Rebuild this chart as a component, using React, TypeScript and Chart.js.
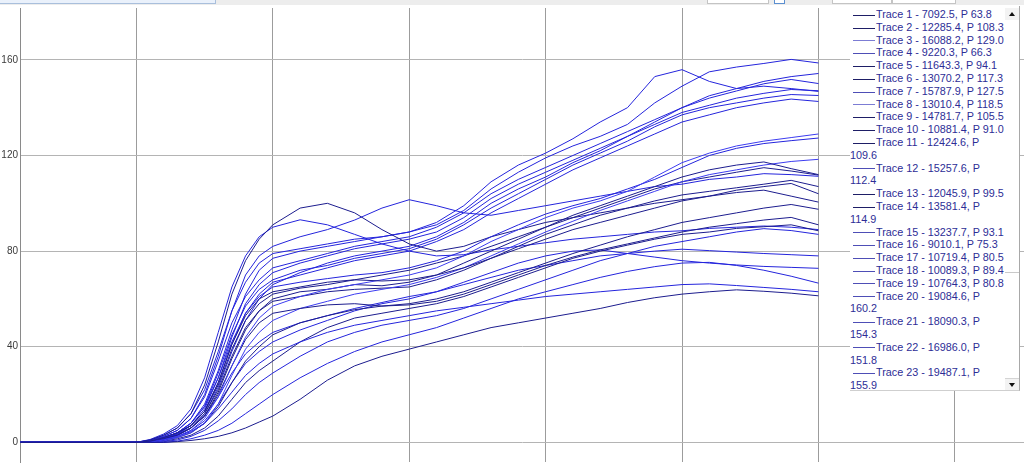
import React, { useEffect, useRef } from 'react';
import { Chart, registerables } from 'chart.js';

Chart.register(...registerables);

// x positions (axis units; one vertical grid division = 1)
const xPositions = [0.15, 1.0, 1.1, 1.2, 1.3, 1.4, 1.5, 1.6, 1.7, 1.8, 1.9, 2.0, 2.2, 2.4, 2.6, 2.8, 3.0, 3.2, 3.4, 3.6, 3.8, 4.0, 4.2, 4.4, 4.6, 4.8, 5.0, 5.2, 5.4, 5.6, 5.8, 6.0];

const trace1 = [0, 0, 0, 0, 0.3, 0.8, 1.5, 2.5, 4, 6, 8.5, 11, 18, 26, 32, 36, 39, 42, 45, 48, 50, 52, 54, 56, 58.5, 60.5, 62, 63, 63.8, 63.2, 62.4, 61.3];
const trace2 = [0, 0, 0.5, 2, 4, 7, 13, 25, 41, 53, 60, 63, 65, 67, 68, 67.5, 68, 70, 73, 77, 81, 85, 89, 92, 95, 98, 101, 103, 105.5, 107, 108.3, 104];
const trace3 = [0, 0, 0, 1, 2.5, 5, 10, 19, 32, 44, 52, 57, 61, 64, 66, 68, 70, 73, 78, 84, 89, 94, 98, 101, 105, 111, 117, 121, 124, 126, 127.5, 129];
const trace4 = [0, 0, 0.3, 1.2, 2.5, 4.5, 8, 14, 21, 28, 33, 37, 42, 46, 49, 51, 53, 55, 56.5, 58, 59.5, 61, 62, 63, 64, 65, 66, 66.3, 65.6, 64.8, 64, 63];
const trace5 = [0, 0, 0.4, 1.5, 3, 6, 11, 20, 32, 43, 50, 54, 56, 57.5, 58, 57, 57.5, 59, 62, 66, 70, 74, 77.5, 80.5, 83, 85.5, 88, 90, 91.5, 93, 94.1, 91];
const trace6 = [0, 0, 0, 1, 3, 6, 11, 21, 35, 47, 55, 60, 63, 64, 66, 65.5, 67, 70, 75, 80, 85, 90, 95, 99, 103, 107, 111, 114, 116, 117.3, 114.5, 112];
const trace7 = [0, 0, 0.5, 2, 4, 8, 15, 27, 42, 54, 61, 65, 67, 68.5, 70, 71, 73, 76, 80, 86, 91, 95.5, 99, 102, 106, 110, 115, 120, 123, 125, 126.2, 127.3];
const trace8 = [0, 0, 0, 0.5, 2, 4, 8, 16, 28, 39, 46, 51, 56, 59, 62, 64, 66, 69, 73, 78, 83, 88, 92.5, 97, 101, 105, 109, 112, 114, 116, 117.5, 118.4];
const trace9 = [0, 0, 1, 3, 6, 12, 24, 42, 62, 76, 85, 91, 98, 100, 96, 89, 83, 80, 82, 86, 89, 92, 94, 96, 98, 100, 101.5, 103, 104.5, 105.5, 103, 100.5];
const trace10 = [0, 0, 0, 0.5, 1.5, 3, 6, 11, 18, 25, 30, 34, 42, 48, 52, 54, 56, 58, 61, 65, 69, 73, 77, 80, 82.5, 85, 87, 88, 89.5, 90.2, 91, 88.5];
const trace11 = [0, 0, 0.3, 1.5, 3, 6, 12, 22, 36, 48, 55, 59, 61, 63, 64, 64.5, 65, 68, 72, 77, 82, 87, 91, 95, 98, 101, 103.5, 105, 106.5, 108, 109.6, 107];
const trace12 = [0, 0, 0.8, 2.5, 5, 10, 20, 36, 55, 70, 78, 82, 86, 89, 93, 98, 101.5, 99, 96, 95, 97, 99, 101, 103, 105, 107, 108, 110, 111, 112.4, 112, 111.3];
const trace13 = [0, 0, 0, 1, 2, 4, 8, 15, 25, 34, 40, 45, 50, 53, 55.5, 57, 58, 60, 63, 67, 71, 75, 79, 82.5, 86, 89, 92, 94, 96, 98, 99.5, 97.5];
const trace14 = [0, 0, 0.5, 2, 4, 7, 13, 24, 39, 51, 58, 62, 64.5, 66, 68, 70, 72, 75, 78, 82, 86, 90, 94, 98, 102, 106, 109, 111, 113, 114.9, 113.5, 111.8];
const trace15 = [0, 0, 1.2, 3.5, 7, 14, 27, 46, 65, 78, 86, 90, 93.1, 91, 87, 83, 80, 78, 78.5, 80.5, 82, 83.5, 85, 86, 87, 88, 88.5, 89.5, 90, 90.5, 90, 89];
const trace16 = [0, 0, 0, 0, 0.5, 1.5, 3, 5, 8, 12, 16, 20, 27, 33, 38, 42, 45, 48, 52, 56, 60, 63, 66, 69, 71.5, 73.5, 75, 75.3, 74, 72, 69.5, 66.6];
const trace17 = [0, 0, 0, 1, 2.5, 5, 9, 16, 25, 33, 38, 42, 47, 51, 55, 58, 60, 63, 67, 71, 75, 78, 80, 80.5, 79, 77.5, 76, 75, 74.2, 73.6, 73.2, 72.8];
const trace18 = [0, 0, 0, 0.3, 1, 2.5, 5, 9, 14, 20, 25, 29, 36, 42, 46, 49, 51, 53, 56, 60, 64, 68, 72, 76, 79, 82, 84, 86, 88, 89.4, 88.6, 87];
const trace19 = [0, 0, 0.5, 2, 3.5, 6, 11, 19, 29, 37, 42, 46, 50, 53, 56, 58.5, 61, 63, 66, 69, 72, 74, 76, 78, 79, 80, 80.8, 80.2, 79.6, 79, 78.5, 78];
const trace20 = [0, 0, 0.6, 2, 4, 8, 16, 30, 47, 62, 72, 77, 80, 82, 84, 86, 88, 91, 97, 106, 113, 119, 124, 128, 133, 142, 149, 155, 157, 158.5, 160.2, 158.7];
const trace21 = [0, 0, 0.4, 1.5, 3.5, 7, 14, 27, 44, 58, 66, 71, 75, 78, 81, 83, 85, 88, 94, 102, 108, 113, 118, 123, 128, 134, 140, 145, 148, 151, 153, 154.3];
const trace22 = [0, 0, 0.8, 2.5, 5, 10, 19, 34, 50, 61, 68, 73, 76, 79, 82, 84, 86, 90, 96, 104, 110, 115, 120, 125, 130, 135, 140, 144, 147, 150, 151.8, 150.1];
const trace23 = [0, 0, 1, 3, 6, 12, 22, 38, 55, 67, 75, 79, 81, 83, 85, 86, 88, 92, 99, 109, 116, 121, 127, 134, 140, 153, 155.9, 151, 148, 149, 148, 146.8];
const trace24 = [0, 0, 0, 1, 3, 6, 12, 23, 38, 51, 60, 66, 71, 75, 78, 80, 82, 86, 92, 100, 106, 111, 117, 122, 128, 133, 138, 141, 144, 146, 147.6, 147.1];
const trace25 = [0, 0, 0.5, 2, 4, 8, 15, 29, 45, 57, 64, 68, 72, 74, 77, 79, 81, 85, 91, 98, 104, 110, 116, 121, 126, 132, 137, 140, 142, 144, 145.5, 145.1];
const trace26 = [0, 0, 0.3, 1.5, 3.5, 7, 13, 25, 41, 54, 62, 67, 70, 73, 76, 78, 80, 84, 89, 96, 102, 108, 114, 119, 124, 129, 134, 137, 140, 142, 143.6, 142.6];

const traceSeries = [trace1, trace2, trace3, trace4, trace5, trace6, trace7, trace8, trace9, trace10, trace11, trace12, trace13, trace14, trace15, trace16, trace17, trace18, trace19, trace20, trace21, trace22, trace23, trace24, trace25, trace26];

// legend numbers
const traceAreas = [7092.5, 12285.4, 16088.2, 9220.3, 11643.3, 13070.2, 15787.9, 13010.4, 14781.7, 10881.4, 12424.6, 15257.6, 12045.9, 13581.4, 13237.7, 9010.1, 10719.4, 10089.3, 10764.3, 19084.6, 18090.3, 16986.0, 19487.1, 17912.6, 17655.2, 17203.8];
const tracePeaks = [63.8, 108.3, 129.0, 66.3, 94.1, 117.3, 127.5, 118.5, 105.5, 91.0, 109.6, 112.4, 99.5, 114.9, 93.1, 75.3, 80.5, 89.4, 80.8, 160.2, 154.3, 151.8, 155.9, 147.6, 145.5, 143.6];

// tone per trace: d = dark, m = medium, l = light
const traceTones = ['d', 'd', 'l', 'm', 'd', 'd', 'm', 'l', 'd', 'd', 'd', 'm', 'd', 'd', 'm', 'm', 'm', 'm', 'm', 'm', 'm', 'm', 'm', 'm', 'm', 'm'];

const yTickValues = [0, 40, 80, 120, 160];
const xGridValues = [1, 2, 3, 4, 5, 6, 7];

const lineColors: Record<string, string> = { d: '#1c1c8e', m: '#2424dc', l: '#3c3cf0' };
const swatchColors: Record<string, string> = { d: '#1e1e66', m: '#4e4eb6', l: '#7c7cd4' };

export default function App() {
  const ref = useRef<HTMLCanvasElement>(null);

  useEffect(() => {
    document.body.style.margin = '0';
    const canvas = ref.current;
    if (!canvas) return;
    const chart = new Chart(canvas, {
      type: 'line',
      data: {
        datasets: traceSeries.map((vals, i) => ({
          label: `Trace ${i + 1}`,
          data: xPositions.map((x, j) => ({ x, y: vals[j] })),
          borderColor: lineColors[traceTones[i]],
          borderWidth: 1,
          pointRadius: 0,
          tension: 0,
          fill: false,
        })),
      },
      options: {
        animation: false,
        responsive: false,
        maintainAspectRatio: false,
        devicePixelRatio: 1,
        layout: { padding: { top: 8, left: 0, right: 0, bottom: 0 } },
        plugins: { legend: { display: false }, tooltip: { enabled: false } },
        scales: {
          x: {
            type: 'linear',
            min: 0.1466,
            max: 7.507,
            afterBuildTicks: (s: any) => {
              s.ticks = xGridValues.map((v) => ({ value: v }));
            },
            afterFit: (s: any) => {
              s.height = 0;
            },
            ticks: { display: false },
            grid: { color: '#9c9c9c', lineWidth: 1, drawTicks: false },
            border: { display: false },
          },
          y: {
            type: 'linear',
            min: -8.22,
            max: 181.7,
            afterBuildTicks: (s: any) => {
              s.ticks = yTickValues.map((v) => ({ value: v }));
            },
            afterFit: (s: any) => {
              s.width = 20;
            },
            ticks: {
              padding: 2,
              color: '#3a3a3a',
              font: { family: "'Liberation Sans Narrow', 'Liberation Sans', Arial, sans-serif", size: 10 },
            },
            grid: { color: '#b4b4b4', lineWidth: 1, drawTicks: false },
            border: { display: true, color: '#8a8a8a', width: 1 },
          },
        },
      },
    } as any);
    return () => chart.destroy();
  }, []);

  const entries = traceSeries.map((_, i) => ({
    text: `Trace ${i + 1} - ${traceAreas[i].toFixed(1)}, P ${tracePeaks[i].toFixed(1)}`,
    color: swatchColors[traceTones[i]],
  }));

  return (
    <div
      style={{
        position: 'fixed',
        left: 0,
        top: 0,
        width: 1024,
        height: 470,
        overflow: 'hidden',
        background: '#ffffff',
        fontFamily: "'Liberation Sans', Arial, sans-serif",
      }}
    >
      <canvas ref={ref} width={1024} height={470} style={{ position: 'absolute', left: 0, top: 0, width: 1024, height: 470 }} />

      {/* cut-off toolbar strip at the very top */}
      <div style={{ position: 'absolute', left: 0, top: 0, width: 1024, height: 5, background: '#ededed' }} />
      <div style={{ position: 'absolute', left: 0, top: 0, width: 215, height: 3, background: '#eaf1fb', borderRight: '1px solid #a9bfdc', borderBottom: '1px solid #a9bfdc' }} />
      <div style={{ position: 'absolute', left: 707, top: 0, width: 60, height: 3, background: '#ffffff', border: '1px solid #c4c4c4', borderTop: 'none' }} />
      <div style={{ position: 'absolute', left: 774, top: 0, width: 9, height: 3, background: '#ffffff', border: '1px solid #5b8fd0', borderTop: 'none' }} />
      <div style={{ position: 'absolute', left: 832, top: 0, width: 58, height: 3, background: '#ffffff', border: '1px solid #c4c4c4', borderTop: 'none' }} />
      <div style={{ position: 'absolute', left: 892, top: 0, width: 62, height: 3, background: '#ffffff', border: '1px solid #c4c4c4', borderTop: 'none' }} />

      {/* legend box */}
      <div
        style={{
          position: 'absolute',
          left: 850,
          top: 6,
          width: 169,
          height: 384,
          background: '#ffffff',
          borderRight: '1px solid #a8a8a8',
          borderBottom: '1px solid #cfcfcf',
          overflow: 'hidden',
        }}
      >
        <div
          style={{
            position: 'absolute',
            left: 0,
            top: 2.1,
            width: 158,
            fontSize: 10.8,
            lineHeight: '12.8px',
            color: '#2d2d96',
          }}
        >
          {entries.map((e, i) => (
            <div key={i}>
              <span
                style={{
                  display: 'inline-block',
                  width: 22,
                  height: 0,
                  marginLeft: 3,
                  marginRight: 1,
                  borderTop: `1px solid ${e.color}`,
                  verticalAlign: 'middle',
                }}
              />
              {e.text}
            </div>
          ))}
        </div>
        {/* scrollbar */}
        <div style={{ position: 'absolute', left: 155, top: 0, width: 14, height: 384, background: '#ffffff' }} />
        <div style={{ position: 'absolute', left: 155, top: 2, width: 14, height: 12, background: '#f3f3f3' }}>
          <div style={{ position: 'absolute', left: 3.5, top: 4, width: 0, height: 0, borderLeft: '3.5px solid transparent', borderRight: '3.5px solid transparent', borderBottom: '4px solid #111' }} />
        </div>
        <div style={{ position: 'absolute', left: 155, top: 266, width: 14, height: 1, background: '#c9c9c9' }} />
        <div style={{ position: 'absolute', left: 155, top: 372, width: 14, height: 11, background: '#f3f3f3', borderTop: '1px solid #d4d4d4' }}>
          <div style={{ position: 'absolute', left: 3.5, top: 3.5, width: 0, height: 0, borderLeft: '3.5px solid transparent', borderRight: '3.5px solid transparent', borderTop: '4px solid #111' }} />
        </div>
      </div>
    </div>
  );
}
